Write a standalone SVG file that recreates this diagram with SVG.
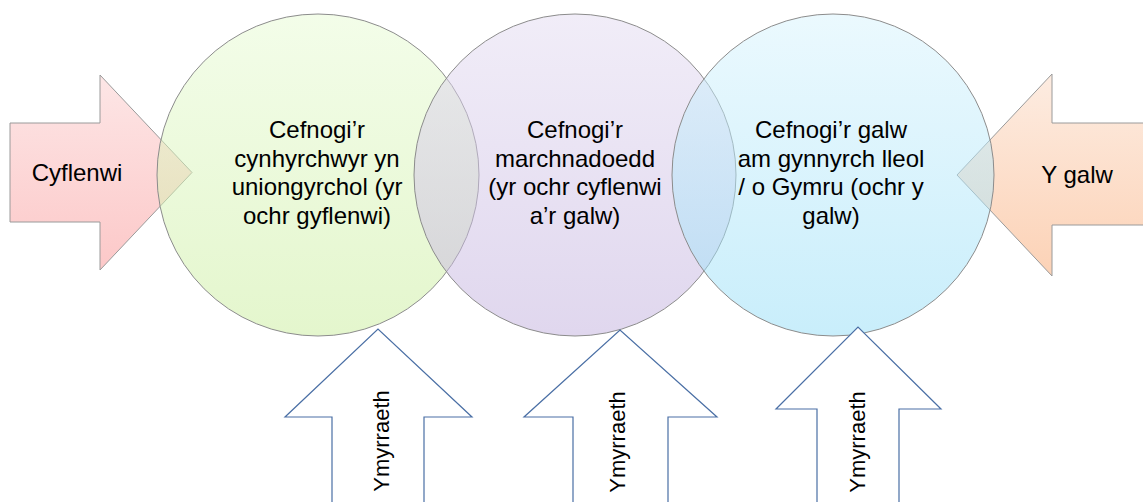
<svg xmlns="http://www.w3.org/2000/svg" width="1143" height="502" viewBox="0 0 1143 502">
<defs>
<linearGradient id="gPink" x1="0" y1="0" x2="0" y2="1"><stop offset="0" stop-color="#fde6e6"/><stop offset="1" stop-color="#fcc8c8"/></linearGradient>
<linearGradient id="gPeach" x1="0" y1="0" x2="0" y2="1"><stop offset="0" stop-color="#fdece1"/><stop offset="1" stop-color="#fcd2b6"/></linearGradient>
<linearGradient id="gGreen" x1="0" y1="0" x2="0" y2="1"><stop offset="0" stop-color="#e7fbd3"/><stop offset="1" stop-color="#c9ed9b"/></linearGradient>
<linearGradient id="gPurple" x1="0" y1="0" x2="0" y2="1"><stop offset="0" stop-color="#e3dbf1"/><stop offset="1" stop-color="#c1afdd"/></linearGradient>
<linearGradient id="gBlue" x1="0" y1="0" x2="0" y2="1"><stop offset="0" stop-color="#d7f3fd"/><stop offset="1" stop-color="#93ddf7"/></linearGradient>
</defs>
<style>
.side{stroke:#9a9a9a;stroke-width:1}
.circ{stroke:#8c8c8c;stroke-width:1;fill-opacity:0.5}
.up{fill:#ffffff;stroke:#4a6fa5;stroke-width:1.2}
text{font-family:"Liberation Sans",Arial,sans-serif;fill:#000;text-anchor:middle}
.t{font-size:24px}
.v{font-size:22px}
</style>
<g id="arrow-cyflenwi">
<polygon class="side" fill="url(#gPink)" points="10,123 100,123 100,75 192,172.5 100,270 100,222 10,222"/>
<text class="t" x="77" y="181">Cyflenwi</text>
</g>
<g id="arrow-ygalw">
<polygon class="side" fill="url(#gPeach)" points="1150,123 1052,123 1052,74 957,175 1052,276 1052,225 1150,225"/>
<text class="t" x="1077" y="183">Y galw</text>
</g>
<g id="circle-1">
<circle class="circ" cx="318" cy="175" r="161" fill="url(#gGreen)"/>
</g>
<g id="circle-2">
<circle class="circ" cx="575" cy="175" r="161" fill="url(#gPurple)"/>
</g>
<g id="circle-3">
<circle class="circ" cx="833" cy="175" r="161" fill="url(#gBlue)"/>
</g>
<g id="label-1">
<text class="t" x="317" y="138">Cefnogi’r</text>
<text class="t" x="317" y="167">cynhyrchwyr yn</text>
<text class="t" x="317" y="195">uniongyrchol (yr</text>
<text class="t" x="317" y="224">ochr gyflenwi)</text>
</g>
<g id="label-2">
<text class="t" x="575" y="138">Cefnogi’r</text>
<text class="t" x="575" y="167">marchnadoedd</text>
<text class="t" x="575" y="195">(yr ochr cyflenwi</text>
<text class="t" x="575" y="224">a’r galw)</text>
</g>
<g id="label-3">
<text class="t" x="831" y="138">Cefnogi’r galw</text>
<text class="t" x="831" y="167">am gynnyrch lleol</text>
<text class="t" x="831" y="195">/ o Gymru (ochr y</text>
<text class="t" x="831" y="224">galw)</text>
</g>
<g id="up-1">
<polygon class="up" points="332,510 332,417 285,417 378,329 472,417 424,417 424,510"/>
<text class="v" transform="translate(389,441) rotate(-90)">Ymyrraeth</text>
</g>
<g id="up-2">
<polygon class="up" points="573,510 573,417 524,417 620,330 717,417 668,417 668,510"/>
<text class="v" transform="translate(625,442) rotate(-90)">Ymyrraeth</text>
</g>
<g id="up-3">
<polygon class="up" points="817,510 817,409 776,409 858,327 941,409 899,409 899,510"/>
<text class="v" transform="translate(865,442) rotate(-90)">Ymyrraeth</text>
</g>
<g id="connectors"></g>
</svg>
